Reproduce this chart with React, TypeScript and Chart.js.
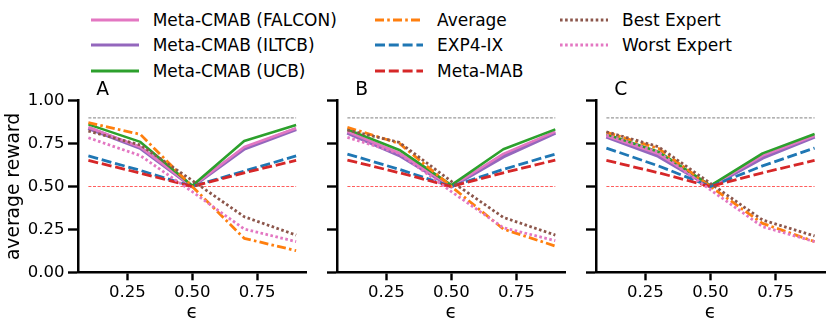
import React, { useEffect, useRef } from 'react';
import Chart from 'chart.js/auto';

// ---------- data ----------
const epsilons = [0.1, 0.3, 0.5, 0.7, 0.9];
const xTickValues = [0.25, 0.5, 0.75];
const yTickValues = [0, 0.25, 0.5, 0.75, 1.0];
const upperReference = 0.9;
const lowerReference = 0.5;
const panelLabels = ['A', 'B', 'C'];

const seriesNames = [
  'Meta-CMAB (FALCON)',
  'Meta-CMAB (ILTCB)',
  'Meta-CMAB (UCB)',
  'Average',
  'EXP4-IX',
  'Meta-MAB',
  'Best Expert',
  'Worst Expert',
];

// Panel A
const falconA = [0.845, 0.73, 0.5, 0.73, 0.84];
const iltcbA = [0.84, 0.725, 0.5, 0.72, 0.835];
const ucbA = [0.862, 0.76, 0.505, 0.765, 0.858];
const averageA = [0.872, 0.804, 0.5, 0.198, 0.126];
const exp4A = [0.678, 0.594, 0.5, 0.59, 0.678];
const metaMabA = [0.652, 0.578, 0.5, 0.58, 0.652];
const bestA = [0.823, 0.742, 0.535, 0.324, 0.217];
const worstA = [0.784, 0.68, 0.47, 0.252, 0.179];

// Panel B
const falconB = [0.82, 0.695, 0.5, 0.69, 0.82];
const iltcbB = [0.814, 0.683, 0.5, 0.675, 0.814];
const ucbB = [0.833, 0.713, 0.508, 0.717, 0.833];
const averageB = [0.845, 0.751, 0.5, 0.252, 0.153];
const exp4B = [0.689, 0.6, 0.5, 0.6, 0.689];
const metaMabB = [0.654, 0.58, 0.5, 0.58, 0.654];
const bestB = [0.829, 0.757, 0.53, 0.32, 0.217];
const worstB = [0.786, 0.693, 0.47, 0.26, 0.184];

// Panel C
const falconC = [0.796, 0.69, 0.5, 0.68, 0.796];
const iltcbC = [0.79, 0.678, 0.5, 0.668, 0.79];
const ucbC = [0.804, 0.703, 0.505, 0.693, 0.806];
const averageC = [0.816, 0.722, 0.5, 0.285, 0.179];
const exp4C = [0.724, 0.62, 0.5, 0.62, 0.724];
const metaMabC = [0.652, 0.58, 0.5, 0.58, 0.652];
const bestC = [0.819, 0.732, 0.518, 0.305, 0.212];
const worstC = [0.8, 0.7, 0.48, 0.266, 0.179];

const panelSeries = [
  [falconA, iltcbA, ucbA, averageA, exp4A, metaMabA, bestA, worstA],
  [falconB, iltcbB, ucbB, averageB, exp4B, metaMabB, bestB, worstB],
  [falconC, iltcbC, ucbC, averageC, exp4C, metaMabC, bestC, worstC],
];

// ---------- styles ----------
const FONT = "'DejaVu Sans', sans-serif";
const seriesStyles = [
  { color: '#e377c2', dash: [], width: 2.6, z: 2 },
  { color: '#9467bd', dash: [], width: 4, z: 1 },
  { color: '#2ca02c', dash: [], width: 2.6, z: 3 },
  { color: '#ff7f0e', dash: [9, 3.2, 2.6, 3.2], width: 2.8, z: 4 },
  { color: '#1f77b4', dash: [10, 3.8], width: 2.8, z: 5 },
  { color: '#d62728', dash: [10, 3.8], width: 2.8, z: 6 },
  { color: '#8c564b', dash: [2.6, 2.5], width: 2.8, z: 7 },
  { color: '#e377c2', dash: [2.6, 2.5], width: 2.8, z: 8 },
];

const panelBoxes = [
  { left: 0, width: 310, yWidth: 78, padRight: 3.5, showY: true },
  { left: 310, width: 260, yWidth: 27, padRight: 4.3, showY: false },
  { left: 570, width: 261, yWidth: 26, padRight: 6, showY: false },
];
const CANVAS_TOP = 75;
const CANVAS_H = 254;
const PAD_TOP = 25.7;
const X_HEIGHT = 56.7;

const legendColumnsX = [90.7, 375, 560];
const legendRowsY = [19.5, 45.2, 70.8];

const panelLabelPlugin = {
  id: 'panelLabel',
  afterDraw(chart: any, _args: any, opts: any) {
    const ctx = chart.ctx;
    const area = chart.chartArea;
    ctx.save();
    ctx.font = `18.7px ${FONT}`;
    ctx.fillStyle = '#000';
    ctx.textAlign = 'left';
    ctx.textBaseline = 'alphabetic';
    ctx.fillText(opts.text, area.left + 18.3, area.top - 5.5);
    ctx.restore();
  },
};

function Panel({ index }: { index: number }) {
  const ref = useRef<HTMLCanvasElement | null>(null);
  const box = panelBoxes[index];
  useEffect(() => {
    if (!ref.current) return;
    const series = panelSeries[index];
    const datasets: any[] = [];
    const total = seriesNames.length + 2;
    const refLine = (value: number, color: string) => ({
      label: 'ref',
      data: [
        { x: epsilons[0], y: value },
        { x: epsilons[epsilons.length - 1], y: value },
      ],
      borderColor: color,
      borderWidth: 1.1,
      borderDash: [3, 1.6],
      pointRadius: 0,
      fill: false,
      order: total + 5,
    });
    datasets.push(refLine(upperReference, '#9a9a9a'));
    datasets.push(refLine(lowerReference, 'rgba(255,40,40,0.75)'));
    seriesNames.forEach((name, i) => {
      const st = seriesStyles[i];
      datasets.push({
        label: name,
        data: epsilons.map((x, k) => ({ x, y: series[i][k] })),
        borderColor: st.color,
        borderWidth: st.width,
        borderDash: st.dash,
        borderCapStyle: 'butt',
        borderJoinStyle: 'round',
        pointRadius: 0,
        fill: false,
        tension: 0,
        order: total - st.z,
      });
    });

    const chart = new Chart(ref.current, {
      type: 'line',
      data: { datasets },
      plugins: [panelLabelPlugin],
      options: {
        animation: false,
        responsive: false,
        devicePixelRatio: 1,
        layout: { padding: { top: PAD_TOP, right: box.padRight, bottom: 0, left: 0 } },
        plugins: {
          legend: { display: false },
          tooltip: { enabled: false },
          title: { display: false },
          panelLabel: { text: panelLabels[index] },
        } as any,
        scales: {
          x: {
            type: 'linear',
            min: 0.06,
            max: 0.94,
            afterBuildTicks: (s: any) => {
              s.ticks = xTickValues.map((v) => ({ value: v }));
            },
            afterFit: (s: any) => {
              s.height = X_HEIGHT;
            },
            ticks: {
              autoSkip: false,
              maxRotation: 0,
              padding: 2.8,
              color: '#000',
              font: { family: FONT, size: 16.5 },
              callback: (v: any) => Number(v).toFixed(2),
            },
            grid: {
              display: true,
              drawOnChartArea: false,
              drawTicks: true,
              tickLength: 8,
              tickWidth: 2.4,
              tickColor: '#000',
            },
            border: { display: true, color: '#000', width: 2.5 },
            title: {
              display: true,
              text: 'ϵ',
              color: '#000',
              font: { family: FONT, size: 18.7 },
              padding: { top: 0, bottom: 4.2 },
            },
          },
          y: {
            type: 'linear',
            min: 0,
            max: 1,
            afterBuildTicks: (s: any) => {
              s.ticks = yTickValues.map((v) => ({ value: v }));
            },
            afterFit: (s: any) => {
              s.width = box.yWidth;
            },
            ticks: {
              autoSkip: false,
              padding: 3.6,
              color: '#000',
              font: { family: FONT, size: 16.5 },
              callback: (v: any) => (box.showY ? Number(v).toFixed(2) : ''),
            },
            grid: {
              display: true,
              drawOnChartArea: false,
              drawTicks: true,
              tickLength: 10,
              tickWidth: 2.4,
              tickColor: '#000',
            },
            border: { display: true, color: '#000', width: 2.5 },
            title: {
              display: box.showY,
              text: 'average reward',
              color: '#000',
              font: { family: FONT, size: 18.7 },
              padding: { top: 2.5, bottom: 0 },
            },
          },
        },
      } as any,
    });
    return () => chart.destroy();
  }, [index]);

  return (
    <canvas
      ref={ref}
      width={box.width}
      height={CANVAS_H}
      style={{
        position: 'absolute',
        left: box.left,
        top: CANVAS_TOP,
        width: box.width,
        height: CANVAS_H,
      }}
    />
  );
}

function Legend() {
  const rows = legendRowsY.length;
  return (
    <>
      {seriesNames.map((name, i) => {
        const col = Math.floor(i / rows);
        const row = i % rows;
        const st = seriesStyles[i];
        const x = legendColumnsX[col];
        const y = legendRowsY[row];
        return (
          <div
            key={name}
            style={{
              position: 'absolute',
              left: x,
              top: y - 12,
              height: 24,
              display: 'flex',
              alignItems: 'center',
              whiteSpace: 'nowrap',
              fontFamily: FONT,
              fontSize: 17,
              color: '#000',
            }}
          >
            <svg width={48} height={24} style={{ display: 'block' }}>
              <line
                x1={0}
                y1={12}
                x2={48}
                y2={12}
                stroke={st.color}
                strokeWidth={2.8}
                strokeDasharray={st.dash.length ? st.dash.join(' ') : undefined}
              />
            </svg>
            <span style={{ marginLeft: 14 }}>{name}</span>
          </div>
        );
      })}
    </>
  );
}

export default function App() {
  return (
    <div
      style={{
        position: 'absolute',
        left: 0,
        top: 0,
        width: 831,
        height: 329,
        background: '#fff',
        overflow: 'hidden',
      }}
    >
      <Legend />
      {panelBoxes.map((_, i) => (
        <Panel key={i} index={i} />
      ))}
    </div>
  );
}
